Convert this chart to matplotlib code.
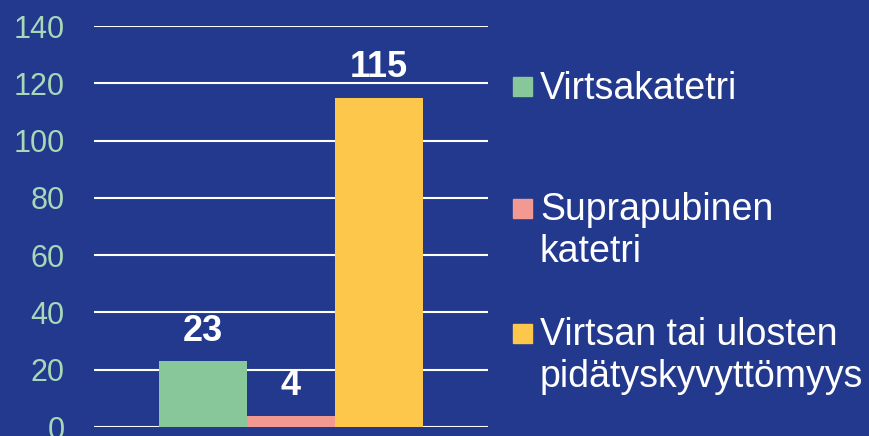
import matplotlib.pyplot as plt
from matplotlib.patches import Rectangle

# catheter / incontinence counts
series_labels = ['Virtsakatetri', 'Suprapubinen\nkatetri', 'Virtsan tai ulosten\npidätyskyvyttömyys']
counts = [23, 4, 115]
colors = ['#88C799', '#F29A92', '#FCC74A']
yticks = [0, 20, 40, 60, 80, 100, 120, 140]

bg = '#22398D'
tick_color = '#A8D8B8'

plt.rcParams['font.family'] = ['Liberation Sans', 'DejaVu Sans']

W, H = 869, 436
fig = plt.figure(figsize=(W / 100, H / 100), dpi=100, facecolor=bg)
ax = fig.add_axes([94 / W, 9 / H, 394 / W, 401 / H], facecolor=bg)

xpos = [-1, 0, 1]
bars = ax.bar(xpos, counts, width=1.0, color=colors, zorder=3)
for x, v in zip(xpos, counts):
    ax.annotate(str(v), (x, v), xytext=(0, 14.5), textcoords='offset points',
                ha='center', va='baseline', color='white', fontsize=26,
                fontweight='bold', zorder=4)

ax.set_xlim(-2.24, 2.24)
ax.set_ylim(0, 140)
ax.set_yticks(yticks)
ax.set_xticks([])
ax.grid(axis='y', color='white', linewidth=1.5, zorder=1)
ax.tick_params(axis='y', length=0, pad=21, labelsize=22, labelcolor=tick_color)
for s in ax.spines.values():
    s.set_visible(False)

# legend drawn by hand: square swatch + (possibly two-line) label
legend_y = [87, 208, 333]
for lab, col, y in zip(series_labels, colors, legend_y):
    fig.add_artist(Rectangle((513 / W, 1 - (y + 9.5) / H), 19 / W, 19 / H,
                             transform=fig.transFigure, color=col))
    fig.text(540 / W, 1 - (y - 16) / H, lab, color='white', fontsize=27,
             ha='left', va='top', linespacing=1.2)

fig.savefig('out.png', dpi=100, facecolor=bg)
